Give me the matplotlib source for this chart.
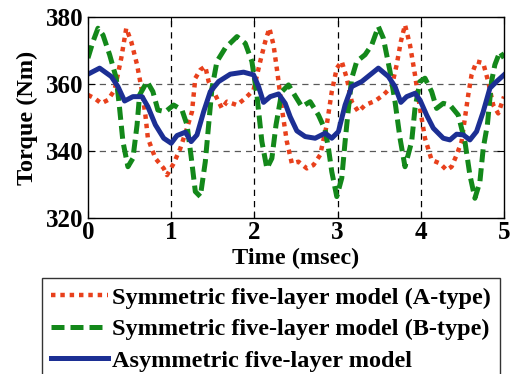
import matplotlib
matplotlib.use("Agg")
import matplotlib.pyplot as plt

plt.rcParams['font.family'] = 'Liberation Serif'
plt.rcParams['font.weight'] = 'bold'

# Symmetric five-layer model (A-type)
t_a = [0.0, 0.08, 0.16, 0.24, 0.32, 0.40, 0.46, 0.52, 0.59, 0.65, 0.69, 0.72, 0.81, 0.91, 0.95,
       1.03, 1.11, 1.19, 1.25, 1.29, 1.35, 1.41, 1.45, 1.53, 1.61, 1.67, 1.79, 1.89, 1.99,
       2.07, 2.13, 2.18, 2.23, 2.28, 2.33, 2.39, 2.45, 2.53, 2.63, 2.71, 2.79, 2.87, 2.93,
       2.99, 3.05, 3.11, 3.17, 3.25, 3.33, 3.45, 3.55, 3.65, 3.71, 3.76, 3.81, 3.87, 3.93,
       3.99, 4.05, 4.13, 4.23, 4.31, 4.37, 4.43, 4.49, 4.53, 4.57, 4.61, 4.67, 4.75, 4.81,
       4.87, 4.93, 5.0]
torque_a = [356.7, 355.7, 354.2, 355.2, 358.2, 367.7, 376.6, 372.6, 365.7, 357.7, 350.7, 343.8,
            337.8, 334.8, 332.8, 336.3, 340.8, 346.8, 351.7, 361.7, 364.2, 365.2, 360.7, 356.7,
            352.7, 354.7, 353.7, 355.7, 358.2, 366.7, 372.6, 376.6, 371.6, 362.7, 352.7, 342.8,
            336.3, 336.8, 334.8, 335.8, 338.8, 347.8, 357.7, 364.7, 366.7, 361.7, 354.7, 351.7,
            353.7, 354.9, 356.7, 359.2, 365.7, 372.6, 377.6, 371.6, 362.7, 352.7, 343.8, 337.3,
            336.3, 334.3, 335.3, 338.8, 342.8, 349.8, 356.7, 362.7, 366.7, 366.2, 360.7, 353.7,
            351.2, 356.2]

# Symmetric five-layer model (B-type)
t_b = [0.0, 0.06, 0.12, 0.18, 0.26, 0.34, 0.38, 0.42, 0.48, 0.54, 0.59, 0.62, 0.71, 0.78, 0.84,
       0.93, 1.03, 1.13, 1.19, 1.24, 1.29, 1.35, 1.41, 1.45, 1.49, 1.55, 1.65, 1.79, 1.89,
       1.97, 2.03, 2.09, 2.15, 2.21, 2.26, 2.33, 2.41, 2.49, 2.57, 2.67, 2.77, 2.85, 2.89,
       2.93, 2.99, 3.05, 3.09, 3.13, 3.17, 3.23, 3.33, 3.41, 3.49, 3.55, 3.63, 3.69, 3.75,
       3.81, 3.89, 3.93, 3.99, 4.05, 4.13, 4.19, 4.27, 4.35, 4.45, 4.53, 4.59, 4.65, 4.71,
       4.75, 4.80, 4.85, 4.89, 4.95, 5.0]
torque_b = [367.7, 372.6, 376.6, 374.6, 368.7, 361.7, 352.7, 342.8, 335.3, 337.8, 347.8, 356.7,
            360.7, 357.7, 352.2, 351.7, 353.7, 352.2, 347.8, 338.3, 327.9, 326.4, 336.8, 347.8,
            358.7, 366.7, 370.7, 374.1, 372.1, 366.7, 356.7, 342.8, 334.8, 337.8, 347.8, 357.7,
            359.7, 356.4, 353.2, 354.7, 350.7, 346.3, 340.8, 333.8, 326.4, 331.9, 342.8, 352.7,
            361.7, 366.7, 368.7, 371.6, 377.1, 373.6, 363.7, 354.7, 343.8, 335.3, 342.8, 352.7,
            360.7, 361.7, 357.7, 352.7, 354.2, 353.7, 350.7, 342.8, 332.8, 325.9, 330.8, 340.8,
            347.8, 360.7, 365.7, 369.6, 367.7]

# Asymmetric five-layer model
t_c = [0.0, 0.14, 0.28, 0.36, 0.44, 0.54, 0.65, 0.72, 0.81, 0.91, 1.0, 1.07, 1.17, 1.24, 1.31,
       1.39, 1.47, 1.57, 1.71, 1.87, 1.99, 2.05, 2.11, 2.19, 2.29, 2.37, 2.43, 2.51, 2.61,
       2.73, 2.85, 2.93, 3.01, 3.09, 3.17, 3.29, 3.39, 3.49, 3.61, 3.69, 3.76, 3.83, 3.93,
       3.99, 4.07, 4.15, 4.27, 4.35, 4.43, 4.51, 4.59, 4.67, 4.75, 4.83, 4.91, 5.0]
torque_c = [362.9, 364.7, 362.2, 359.2, 354.9, 356.2, 356.2, 353.2, 347.8, 343.8, 342.3, 344.6,
            345.6, 342.8, 344.8, 351.7, 357.7, 360.7, 362.9, 363.5, 362.7, 359.2, 354.5, 356.2,
            357.0, 354.2, 350.2, 346.0, 344.3, 343.8, 345.3, 343.8, 345.8, 353.7, 359.2, 360.7,
            362.7, 364.7, 362.2, 359.2, 354.5, 356.2, 357.2, 355.2, 350.7, 346.8, 343.8, 343.3,
            345.0, 344.8, 343.3, 345.8, 351.7, 358.7, 360.7, 362.7]

fig = plt.figure(figsize=(5.13, 3.74), dpi=100)
ax = fig.add_axes([0.1715, 0.417, 0.811, 0.538])

ax.plot(t_a, torque_a, color='#e8401c', lw=3.2, linestyle=(0, (1.0, 1.1)),
        label='Symmetric five-layer model (A-type)')
ax.plot(t_b, torque_b, color='#13881a', lw=3.6, linestyle=(0, (2.6, 1.2)),
        label='Symmetric five-layer model (B-type)')
ax.plot(t_c, torque_c, color='#1c2f94', lw=3.6,
        label='Asymmetric five-layer model')

ax.set_xlim(0, 5)
ax.set_ylim(320, 380)
ax.set_xticks([0, 1, 2, 3, 4, 5])
ax.set_yticks([320, 340, 360, 380])
for x in [1, 2, 3, 4]:
    ax.axvline(x, color='k', lw=0.9, linestyle=(0, (5, 4)), zorder=0)
for y in [340, 360]:
    ax.axhline(y, color='0.35', lw=0.9, linestyle=(0, (5, 4)), zorder=0)

ax.tick_params(direction='in', length=5, labelsize=18, top=True, right=True)
ax.tick_params(axis='x', pad=2)
ax.tick_params(axis='y', pad=3)
for lab in ax.get_xticklabels() + ax.get_yticklabels():
    lab.set_fontweight('bold')
for side in ax.spines.values():
    side.set_linewidth(1.0)

ax.set_xlabel('Time (msec)', fontsize=17.5, fontweight='bold', labelpad=3)
ax.set_ylabel('Torque (Nm)', fontsize=17.5, fontweight='bold', labelpad=6)

leg = fig.legend(loc='upper left', bbox_to_anchor=(42 / 513, 1 - 278 / 374),
                 prop={'weight': 'bold', 'size': 17.5}, frameon=True,
                 fancybox=False, handlelength=2.35, handletextpad=0.2,
                 borderpad=0.35, labelspacing=0.39, borderaxespad=0)
leg.get_frame().set_edgecolor('k')
leg.get_frame().set_linewidth(1.0)

fig.savefig('out.png', dpi=100)
